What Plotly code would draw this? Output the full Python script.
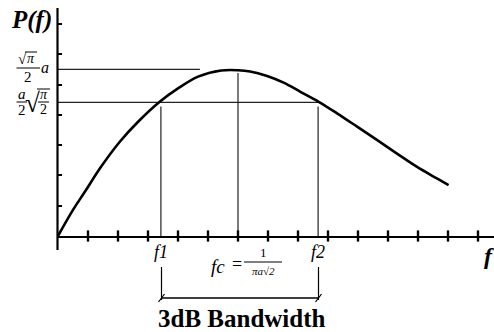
import plotly.graph_objects as go

# ---- data (x in tick units, y in tick units) ----
curve_x = [0.0, 0.5, 0.89, 1.44, 2.06, 2.67, 3.39, 4.0, 4.67, 5.44, 6.0, 6.4, 6.97, 7.52, 8.08, 8.69, 9.3, 9.97, 10.63, 11.3, 11.97, 12.63, 13.02]
curve_y = [0.0, 0.86, 1.45, 2.29, 3.11, 3.77, 4.43, 4.87, 5.26, 5.46, 5.47, 5.43, 5.28, 5.06, 4.76, 4.43, 4.05, 3.61, 3.17, 2.72, 2.28, 1.90, 1.68]
f1, fc, f2 = 3.43, 6.0, 8.67
peak_level = 5.50
peak_line_end = 4.73
half_level = 4.41
vline_tops = [4.27, 5.38, 4.27]
x_ticks = list(range(1, 15))
y_ticks = list(range(1, 8))

W, H = 494, 332
L, T, B = 58, 8, 96
X0PX, Y0PX = 58, 236
XR = (W - L) / 30.0
YR = (H - T - B) / 30.3

def P(px, py):
    return (px - X0PX) / (W - L), (Y0PX - py) / (H - T - B)

fig = go.Figure()

# helper lines
hx = [0, peak_line_end, None, 0, f2]
hy = [peak_level, peak_level, None, half_level, half_level]
vx, vy = [], []
for xv, top in zip([f1, fc, f2], vline_tops):
    vx += [xv, xv, None]
    vy += [0, top, None]
fig.add_trace(go.Scatter(x=hx + [None] + vx, y=hy + [None] + vy, mode="lines",
                         line=dict(color="#222", width=1.2), hoverinfo="skip", showlegend=False))

# curve
fig.add_trace(go.Scatter(x=curve_x, y=curve_y, mode="lines", line=dict(color="black", width=2.6, shape="spline"),
                         showlegend=False))

# x ticks crossing axis
fig.add_trace(go.Scatter(x=x_ticks, y=[0] * len(x_ticks), mode="markers",
                         marker=dict(symbol="line-ns", size=8, line=dict(color="black", width=2.4)),
                         cliponaxis=False, showlegend=False, hoverinfo="skip"))

fig.update_xaxes(range=[0, XR], showgrid=False, zeroline=False, showticklabels=False,
                 showline=True, linecolor="black", linewidth=2, ticks="")
fig.update_yaxes(range=[0, YR], showgrid=False, zeroline=False, showticklabels=False,
                 showline=False, tickvals=y_ticks, ticks="inside", ticklen=4, tickwidth=2.2, tickcolor="black")

shapes = []
def line_px(x1, y1, x2, y2, w=1.2, c="black"):
    a = P(x1, y1); b = P(x2, y2)
    shapes.append(dict(type="line", xref="paper", yref="paper", x0=a[0], y0=a[1], x1=b[0], y1=b[1],
                       line=dict(color=c, width=w)))

# y axis line (extends below x axis)
line_px(57.5, 8, 57.5, 250, w=2.2)

# fraction bars / radicals vinculum
line_px(16.5, 68, 40, 68, w=1)          # label 1 bar
line_px(25, 52, 37, 52, w=1)            # sqrt(pi) vinculum
line_px(16.5, 102, 27, 102, w=1)        # a/2 bar
line_px(38, 102, 49, 102, w=1)          # pi/2 bar
line_px(37, 89, 50, 89, w=1)            # vinculum
line_px(244, 262, 282, 262, w=1)        # 1/(pi a sqrt2)

# bandwidth bracket
line_px(161.5, 267, 161.5, 300, w=1.2)
line_px(318.5, 267, 318.5, 300, w=1.2)
line_px(161.5, 298, 318.5, 298, w=1.5)
line_px(158.5, 302, 164.5, 294, w=1.2)
line_px(315.5, 302, 321.5, 294, w=1.2)

ann = []
def text_px(x, y, t, size, bold=False, italic=False, font="Liberation Serif"):
    a = P(x, y)
    s = t
    if italic:
        s = "<i>" + s + "</i>"
    if bold:
        s = "<b>" + s + "</b>"
    ann.append(dict(xref="paper", yref="paper", x=a[0], y=a[1], text=s, showarrow=False,
                    xanchor="center", yanchor="middle", font=dict(family=font, size=size, color="black")))

text_px(31, 20, "P(f)", 25, bold=True, italic=True)
text_px(22, 59, "√", 15)
text_px(31, 58, "π", 14, italic=True)
text_px(28, 77, "2", 15)
text_px(45, 67, "a", 16, italic=True)
text_px(21.5, 94, "a", 15, italic=True)
text_px(21.5, 110, "2", 15)
text_px(32, 103, "√", 27)
text_px(43.5, 95, "π", 14, italic=True)
text_px(43.5, 110, "2", 14)

text_px(161, 252, "f1", 18, italic=True)
text_px(318, 252, "f2", 18, italic=True)
text_px(218, 266, "fc", 19, italic=True)
text_px(237, 264, "=", 18)
text_px(263, 253, "1", 13)
text_px(263, 271, "πa√2", 11, italic=True)
text_px(489, 256, "f", 24, bold=True, italic=True)
text_px(242, 318, "3dB Bandwidth", 25, bold=True)

fig.update_layout(width=W, height=H, margin=dict(l=L, r=0, t=T, b=B, pad=0),
                  plot_bgcolor="white", paper_bgcolor="white", shapes=shapes, annotations=ann,
                  showlegend=False)
fig.write_html("out.html", config={"displayModeBar": False},
               post_script="document.body.style.margin='0';document.body.style.overflow='hidden';")
